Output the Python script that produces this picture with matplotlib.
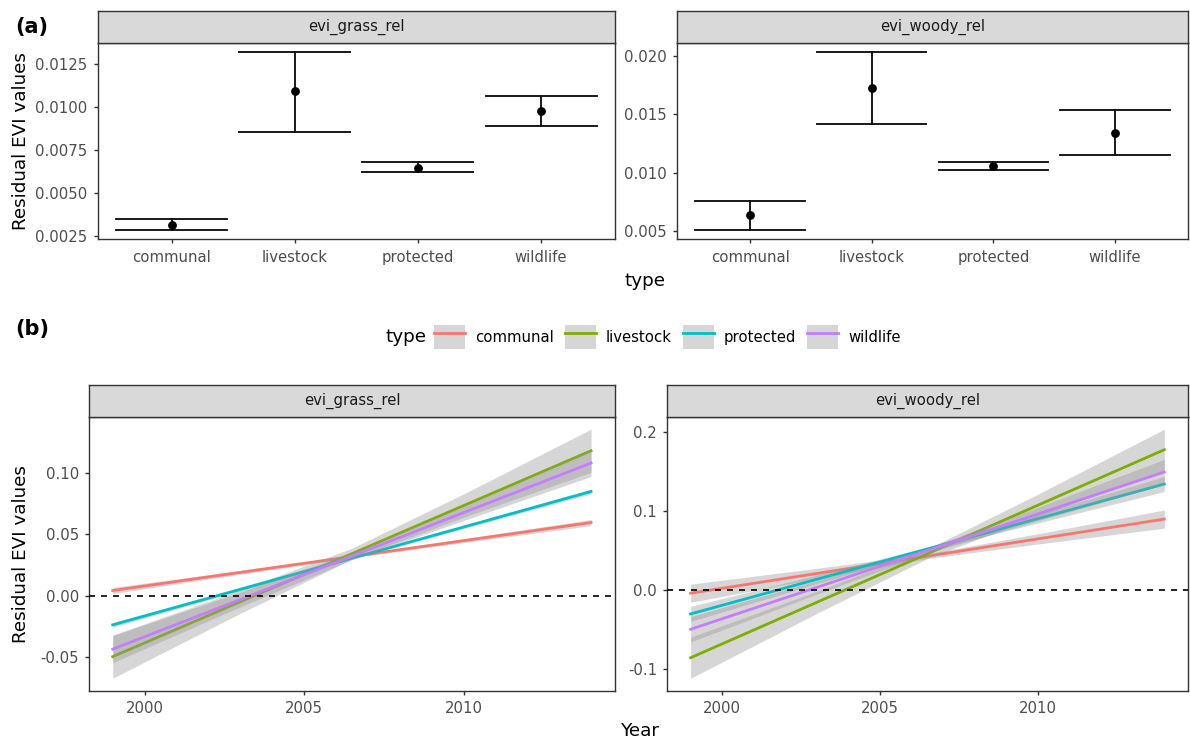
import numpy as np
import matplotlib
matplotlib.use("Agg")
import matplotlib.pyplot as plt
from matplotlib.patches import Patch
from matplotlib.lines import Line2D
from matplotlib.legend_handler import HandlerTuple

# ---- data -------------------------------------------------------------
types = ["communal", "livestock", "protected", "wildlife"]
colors = ["#F8766D", "#7CAE00", "#00BFC4", "#C77CFF"]

# (a) mean residual EVI with error bars
grass_mean = [0.00313, 0.01092, 0.00644, 0.00979]
grass_lo = [0.00283, 0.00854, 0.00621, 0.00887]
grass_hi = [0.00346, 0.01321, 0.00677, 0.01067]

woody_mean = [0.0064, 0.01726, 0.01059, 0.01342]
woody_lo = [0.00511, 0.01418, 0.01023, 0.01152]
woody_hi = [0.00759, 0.02034, 0.01093, 0.0154]

# (b) linear trends (fit at first and last year) and confidence bands
years = [1999, 2014]
band_years = [1999, 2003, 2006.5, 2010, 2014]

grass_fit = {
    "communal": [0.0041, 0.0595],
    "livestock": [-0.0498, 0.118],
    "protected": [-0.0239, 0.0848],
    "wildlife": [-0.0437, 0.108],
}
grass_band_lo = {
    "communal": [0.0016, 0.0173, 0.0308, 0.0431, 0.0570],
    "livestock": [-0.0674, -0.0145, 0.0296, 0.0638, 0.1004],
    "protected": [-0.0259, 0.0038, 0.0297, 0.0545, 0.0828],
    "wildlife": [-0.0547, -0.0092, 0.0292, 0.0611, 0.0970],
}
grass_band_hi = {
    "communal": [0.0066, 0.0205, 0.0328, 0.0463, 0.0620],
    "livestock": [-0.0322, 0.0045, 0.0386, 0.0828, 0.1356],
    "protected": [-0.0219, 0.0064, 0.0313, 0.0571, 0.0868],
    "wildlife": [-0.0327, 0.0028, 0.0352, 0.0731, 0.1190],
}

woody_fit = {
    "communal": [-0.0042, 0.0896],
    "livestock": [-0.0858, 0.1774],
    "protected": [-0.0304, 0.134],
    "wildlife": [-0.0498, 0.1492],
}
woody_band_lo = {
    "communal": [-0.0157, 0.0143, 0.0397, 0.0581, 0.0781],
    "livestock": [-0.1118, -0.0296, 0.0398, 0.0932, 0.1514],
    "protected": [-0.0399, 0.0079, 0.0493, 0.0847, 0.1245],
    "wildlife": [-0.0658, -0.0052, 0.0462, 0.0876, 0.1332],
}
woody_band_hi = {
    "communal": [0.0073, 0.0273, 0.0457, 0.0711, 0.1011],
    "livestock": [-0.0598, -0.0016, 0.0518, 0.1212, 0.2034],
    "protected": [-0.0209, 0.0189, 0.0543, 0.0957, 0.1435],
    "wildlife": [-0.0338, 0.0118, 0.0532, 0.1046, 0.1652],
}

# ---- style ------------------------------------------------------------
W, H = 1190, 742
TICK = 10.7
TITLE = 13.2
BORDER = "#333333"

fig = plt.figure(figsize=(W / 100, H / 100), dpi=100)


def px_axes(x0, y0, x1, y1):
    return fig.add_axes([x0 / W, 1 - y1 / H, (x1 - x0) / W, (y1 - y0) / H])


def style_axes(ax):
    for s in ax.spines.values():
        s.set_color(BORDER)
        s.set_linewidth(1.0)
    ax.tick_params(length=2.7, width=1.0, color=BORDER, labelcolor="#4D4D4D",
                   labelsize=TICK, pad=4.5)
    ax.tick_params(axis="x", pad=5)


def strip(x0, y0, x1, y1, label):
    s = px_axes(x0, y0, x1, y1)
    s.set_facecolor("#D9D9D9")
    s.set_xticks([])
    s.set_yticks([])
    for sp in s.spines.values():
        sp.set_color(BORDER)
        sp.set_linewidth(1.0)
    s.text(0.5, 0.5, label, ha="center", va="center", fontsize=TICK,
           color="#1A1A1A", transform=s.transAxes)


def expand(lo, hi):
    r = hi - lo
    return lo - 0.05 * r, hi + 0.05 * r


def errbar_panel(ax, mean, lo, hi, yticks, fmt):
    x = np.arange(1, len(types) + 1)
    for i in range(len(types)):
        ax.plot([x[i], x[i]], [lo[i], hi[i]], color="#111111", lw=1.35)
        ax.plot([x[i] - 0.45, x[i] + 0.45], [lo[i], lo[i]], color="#111111", lw=1.35)
        ax.plot([x[i] - 0.45, x[i] + 0.45], [hi[i], hi[i]], color="#111111", lw=1.35)
    ax.plot(x, mean, "o", color="black", markersize=5.3, zorder=5)
    ax.set_xlim(0.4, 4.6)
    ax.set_ylim(*expand(min(lo), max(hi)))
    ax.set_xticks(x)
    ax.set_xticklabels(types)
    ax.set_yticks(yticks)
    ax.set_yticklabels([fmt.format(v) for v in yticks])
    style_axes(ax)


def trend_panel(ax, fit, band_lo, band_hi, yticks, ylabels):
    z = 2
    for t, c in zip(types, colors):
        ax.fill_between(band_years, band_lo[t], band_hi[t], color="#999999",
                        alpha=0.4, lw=0, zorder=z)
        ax.plot(years, fit[t], color=c, lw=2.0, zorder=z + 1)
        z += 2
    ax.axhline(0, color="black", lw=1.2, ls=(0, (3.6, 3.6)), zorder=z)
    all_lo = min(min(v) for v in band_lo.values())
    all_hi = max(max(v) for v in band_hi.values())
    ax.set_ylim(*expand(all_lo, all_hi))
    ax.set_xlim(*expand(years[0], years[1]))
    ax.set_xticks([2000, 2005, 2010])
    ax.set_yticks(yticks)
    ax.set_yticklabels(ylabels)
    style_axes(ax)


# ---- (a) --------------------------------------------------------------
ax1 = px_axes(97.6, 43, 615, 239)
errbar_panel(ax1, grass_mean, grass_lo, grass_hi,
             [0.0025, 0.0050, 0.0075, 0.0100, 0.0125], "{:.4f}")
strip(97.6, 11, 615, 43, "evi_grass_rel")

ax2 = px_axes(677, 43, 1188, 239)
errbar_panel(ax2, woody_mean, woody_lo, woody_hi,
             [0.005, 0.010, 0.015, 0.020], "{:.3f}")
strip(677, 11, 1188, 43, "evi_woody_rel")

fig.text(21 / W, 1 - 141 / H, "Residual EVI values", rotation=90,
         ha="center", va="center", fontsize=TITLE)
fig.text(645 / W, 1 - 281 / H, "type", ha="center", va="center", fontsize=TITLE)
fig.text(15 / W, 1 - 27 / H, "(a)", ha="left", va="center", fontsize=15,
         fontweight="bold")

# ---- (b) --------------------------------------------------------------
ax3 = px_axes(88.8, 416.7, 615, 690.7)
trend_panel(ax3, grass_fit, grass_band_lo, grass_band_hi,
            [-0.05, 0.0, 0.05, 0.10], ["-0.05", "0.00", "0.05", "0.10"])
strip(88.8, 385, 615, 416.7, "evi_grass_rel")

ax4 = px_axes(667, 416.7, 1188, 690.7)
trend_panel(ax4, woody_fit, woody_band_lo, woody_band_hi,
            [-0.1, 0.0, 0.1, 0.2], ["-0.1", "0.0", "0.1", "0.2"])
strip(667, 385, 1188, 416.7, "evi_woody_rel")

fig.text(21 / W, 1 - 553.7 / H, "Residual EVI values", rotation=90,
         ha="center", va="center", fontsize=TITLE)
fig.text(640 / W, 1 - 731 / H, "Year", ha="center", va="center", fontsize=TITLE)
fig.text(15 / W, 1 - 329 / H, "(b)", ha="left", va="center", fontsize=15,
         fontweight="bold")

# legend
handles = [(Patch(facecolor="#999999", alpha=0.4, lw=0),
            Line2D([], [], color=c, lw=2.0)) for c in colors]
fig.legend(handles, types, loc="center left", bbox_to_anchor=(434 / W, 1 - 337 / H),
           ncol=4, frameon=False, fontsize=TICK, handlelength=2.1, handleheight=2.1,
           handletextpad=0.65, columnspacing=0.75, borderpad=0, borderaxespad=0,
           handler_map={tuple: HandlerTuple(ndivide=1)})
fig.text(385 / W, 1 - 337 / H, "type", ha="left", va="center", fontsize=TITLE)

fig.savefig("out.png", dpi=100)
